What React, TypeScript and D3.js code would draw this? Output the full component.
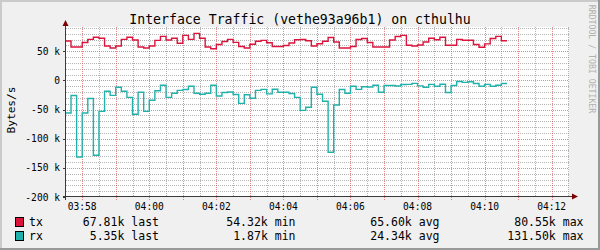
import React from "react";
import * as d3 from "d3";

const T = (h: number, m: number, s: number) => new Date(Date.UTC(2024, 0, 1, h, m, s));

const DATA_START = T(3, 57, 30);
const STEP_SECONDS = 10;
const VIEW_START = T(3, 57, 31);
const VIEW_END = T(4, 12, 31);

// kB/s
const txValues = [
  67.4, 57.1, 57.1, 64.9, 70.3, 73.8, 72.2, 58.9, 55.4, 58.9,
  70.3, 73.8, 69.1, 57.1, 55.4, 58.9, 68.6, 75.5, 69.1, 72.2,
  63.7, 77.2, 70.3, 80.55, 72.2, 57.1, 54.32, 61.4, 66.6, 70.3,
  65.2, 58.0, 55.4, 61.8, 67.1, 68.6, 64.5, 58.0, 58.0, 59.7,
  64.0, 69.7, 70.0, 67.8, 58.9, 62.8, 67.1, 73.4, 65.7, 55.4,
  55.4, 58.0, 70.0, 71.7, 64.9, 57.1, 57.1, 57.1, 69.1, 75.1,
  77.2, 60.1, 58.9, 60.6, 65.7, 72.2, 69.7, 73.9, 60.1, 60.1,
  70.3, 68.8, 68.8, 61.4, 56.8, 62.6, 71.7, 75.5, 67.81,
];
// kB/s (drawn negated)
const rxValues = [
  56.0, 26.0, 131.5, 56.0, 31.1, 128.5, 53.1, 18.6, 25.7, 11.9,
  18.6, 29.1, 58.1, 20.5, 53.1, 34.2, 17.9, 8.5, 29.1, 22.1,
  17.1, 15.7, 10.2, 22.1, 23.8, 22.1, 8.5, 26.9, 20.9, 20.0,
  24.3, 39.4, 24.6, 30.6, 17.1, 15.4, 23.1, 15.2, 20.5, 20.5,
  22.6, 29.1, 51.4, 46.2, 11.9, 23.9, 35.9, 123.2, 42.3, 15.7,
  22.1, 10.2, 15.4, 10.9, 11.4, 8.5, 20.5, 8.9, 8.9, 9.7,
  7.1, 6.8, 5.1, 9.4, 11.8, 6.8, 10.1, 6.6, 20.9, 8.9,
  1.87, 3.4, 2.5, 5.4, 10.2, 6.8, 10.1, 8.3, 5.35,
];

const yMajorTicks = [50, 0, -50, -100, -150, -200];
const yTickLabels = ["50 k", "0", "-50 k", "-100 k", "-150 k", "-200 k"];

const seriesNames = ["tx", "rx"];
const seriesColors = ["#DC143C", "#20B2AA"];
const legendLast = ["67.81k last", "5.35k last"];
const legendMin = ["54.32k min", "1.87k min"];
const legendAvg = ["65.60k avg", "24.34k avg"];
const legendMax = ["80.55k max", "131.50k max"];

const TITLE = "Interface Traffic (vethe93a96b1) on cthulhu";
const Y_TITLE = "Bytes/s";
const WATERMARK = "RRDTOOL / TOBI OETIKER";

const FONT = "'DejaVu Sans Mono', monospace";

export default function App() {
  const W = 600, H = 250;
  const x0 = 66, x1 = 569, yTop = 27, yBot = 197;

  const x = d3.scaleUtc().domain([VIEW_START, VIEW_END]).range([x0, x1]);
  const y = d3.scaleLinear().domain([-200, 91.5]).range([yBot, yTop]);

  const toPoints = (vals: number[], sign: number) => {
    const pts: [Date, number][] = vals.map((v, i) => [
      new Date(DATA_START.getTime() + i * STEP_SECONDS * 1000),
      sign * v,
    ]);
    pts.push([
      new Date(DATA_START.getTime() + vals.length * STEP_SECONDS * 1000),
      sign * vals[vals.length - 1],
    ]);
    return pts;
  };

  const line = d3
    .line<[Date, number]>()
    .x((d) => x(d[0]))
    .y((d) => y(d[1]))
    .curve(d3.curveStepAfter);

  const txPath = line(toPoints(txValues, 1)) || "";
  const rxPath = line(toPoints(rxValues, -1)) || "";

  const px = (v: number) => Math.round(v) + 0.5;

  const minorY = d3.range(-190, 92, 10).filter((v) => v % 50 !== 0);
  const majorY = yMajorTicks.filter((v) => v !== -200);
  const minorX = d3.utcSecond.every(30)!.range(VIEW_START, VIEW_END).filter((d) => d.getUTCSeconds() !== 0);
  const majorX = d3.utcMinute.every(1)!.range(VIEW_START, VIEW_END);
  const labelX = d3.utcMinute.every(2)!.range(VIEW_START, VIEW_END);
  const fmt = d3.utcFormat("%H:%M");

  const gridMinor = "rgba(130,130,130,0.6)";
  const gridMajor = "rgba(215,40,40,0.55)";
  const axisColor = "#3a3a3a";
  const arrowColor = "#7F0000";

  const legendRows = [225.5, 239.5];
  const legendSquareY = [217.5, 231.5];

  return (
    <svg
      width={W}
      height={H}
      style={{ position: "absolute", left: 0, top: 0, display: "block" }}
      fontFamily={FONT}
    >
      <defs>
        <clipPath id="canvasClip">
          <rect x={x0} y={yTop} width={x1 - x0} height={yBot - yTop} />
        </clipPath>
      </defs>
      <rect x={0} y={0} width={W} height={H} fill="#F0F0F0" />
      {/* frame */}
      <line x1={0} y1={1} x2={W} y2={1} stroke="#CBCBCB" strokeWidth={2} />
      <line x1={1} y1={0} x2={1} y2={H} stroke="#CBCBCB" strokeWidth={2} />
      <line x1={0} y1={H - 1} x2={W} y2={H - 1} stroke="#999999" strokeWidth={2} />
      <line x1={W - 1} y1={0} x2={W - 1} y2={H} stroke="#999999" strokeWidth={2} />

      <rect x={x0} y={yTop} width={x1 - x0} height={yBot - yTop} fill="#FFFFFF" />

      {/* minor grid */}
      {minorY.map((v) => (
        <line key={"my" + v} x1={x0} x2={x1} y1={px(y(v))} y2={px(y(v))} stroke={gridMinor} strokeDasharray="1,1" />
      ))}
      {minorX.map((d) => (
        <line key={"mx" + d.getTime()} x1={px(x(d))} x2={px(x(d))} y1={yTop} y2={yBot} stroke={gridMinor} strokeDasharray="1,1" />
      ))}
      {/* major grid */}
      {majorY.map((v) => (
        <line key={"My" + v} x1={x0 - 3} x2={x1} y1={px(y(v))} y2={px(y(v))} stroke={gridMajor} strokeDasharray="1,1" />
      ))}
      {majorX.map((d) => (
        <line key={"Mx" + d.getTime()} x1={px(x(d))} x2={px(x(d))} y1={yTop} y2={yBot + 3} stroke={gridMajor} strokeDasharray="1,1" />
      ))}

      {/* data */}
      <g clipPath="url(#canvasClip)">
        <path d={txPath} fill="none" stroke={seriesColors[0]} strokeWidth={1.4} />
        <path d={rxPath} fill="none" stroke={seriesColors[1]} strokeWidth={1.4} />
      </g>

      {/* axes */}
      <line x1={x0 - 3} x2={x1 + 4} y1={px(yBot) - 1} y2={px(yBot) - 1} stroke={axisColor} strokeWidth={1} />
      <line x1={px(x0) - 1} x2={px(x0) - 1} y1={yBot + 3} y2={yTop - 4} stroke={axisColor} strokeWidth={1} />
      <path d={`M${x1 + 9},${yBot - 0.5} L${x1 + 3},${yBot - 3.5} L${x1 + 3},${yBot + 2.5} Z`} fill={arrowColor} />
      <path d={`M${x0 - 0.5},${yTop - 7} L${x0 - 3.5},${yTop - 1} L${x0 + 2.5},${yTop - 1} Z`} fill={arrowColor} />
      {yMajorTicks.map((v) => (
        <line key={"yt" + v} x1={x0 - 3} x2={x0} y1={px(y(v))} y2={px(y(v))} stroke={axisColor} />
      ))}

      {/* y labels */}
      {yMajorTicks.map((v, i) => (
        <text key={"yl" + v} x={60} y={y(v) + 3.5} textAnchor="end" fontSize={9.6} fill="#000">
          {yTickLabels[i]}
        </text>
      ))}
      {/* x labels */}
      {labelX.map((d) => (
        <text key={"xl" + d.getTime()} x={x(d)} y={209.5} textAnchor="middle" fontSize={9.6} fill="#000">
          {fmt(d)}
        </text>
      ))}

      {/* title */}
      <text x={300} y={24} textAnchor="middle" fontSize={13.2} fill="#000">
        {TITLE}
      </text>
      {/* y title */}
      <text
        transform={`translate(15,110) rotate(-90)`}
        textAnchor="middle"
        fontSize={11.2}
        fill="#000"
      >
        {Y_TITLE}
      </text>
      {/* watermark */}
      <text
        transform={`translate(589,59) rotate(90)`}
        textAnchor="middle"
        fontSize={8.2}
        fill="#B0B0B0"
      >
        {WATERMARK}
      </text>

      {/* legend */}
      {seriesNames.map((name, i) => (
        <g key={name}>
          <rect x={15.5} y={legendSquareY[i]} width={8} height={9} fill={seriesColors[i]} stroke="#000" strokeWidth={1} />
          <text x={29} y={legendRows[i]} fontSize={11.5} fill="#000">{name}</text>
          <text x={159} y={legendRows[i]} fontSize={11.5} fill="#000" textAnchor="end">{legendLast[i]}</text>
          <text x={295.5} y={legendRows[i]} fontSize={11.5} fill="#000" textAnchor="end">{legendMin[i]}</text>
          <text x={439.5} y={legendRows[i]} fontSize={11.5} fill="#000" textAnchor="end">{legendAvg[i]}</text>
          <text x={583.5} y={legendRows[i]} fontSize={11.5} fill="#000" textAnchor="end">{legendMax[i]}</text>
        </g>
      ))}
    </svg>
  );
}
